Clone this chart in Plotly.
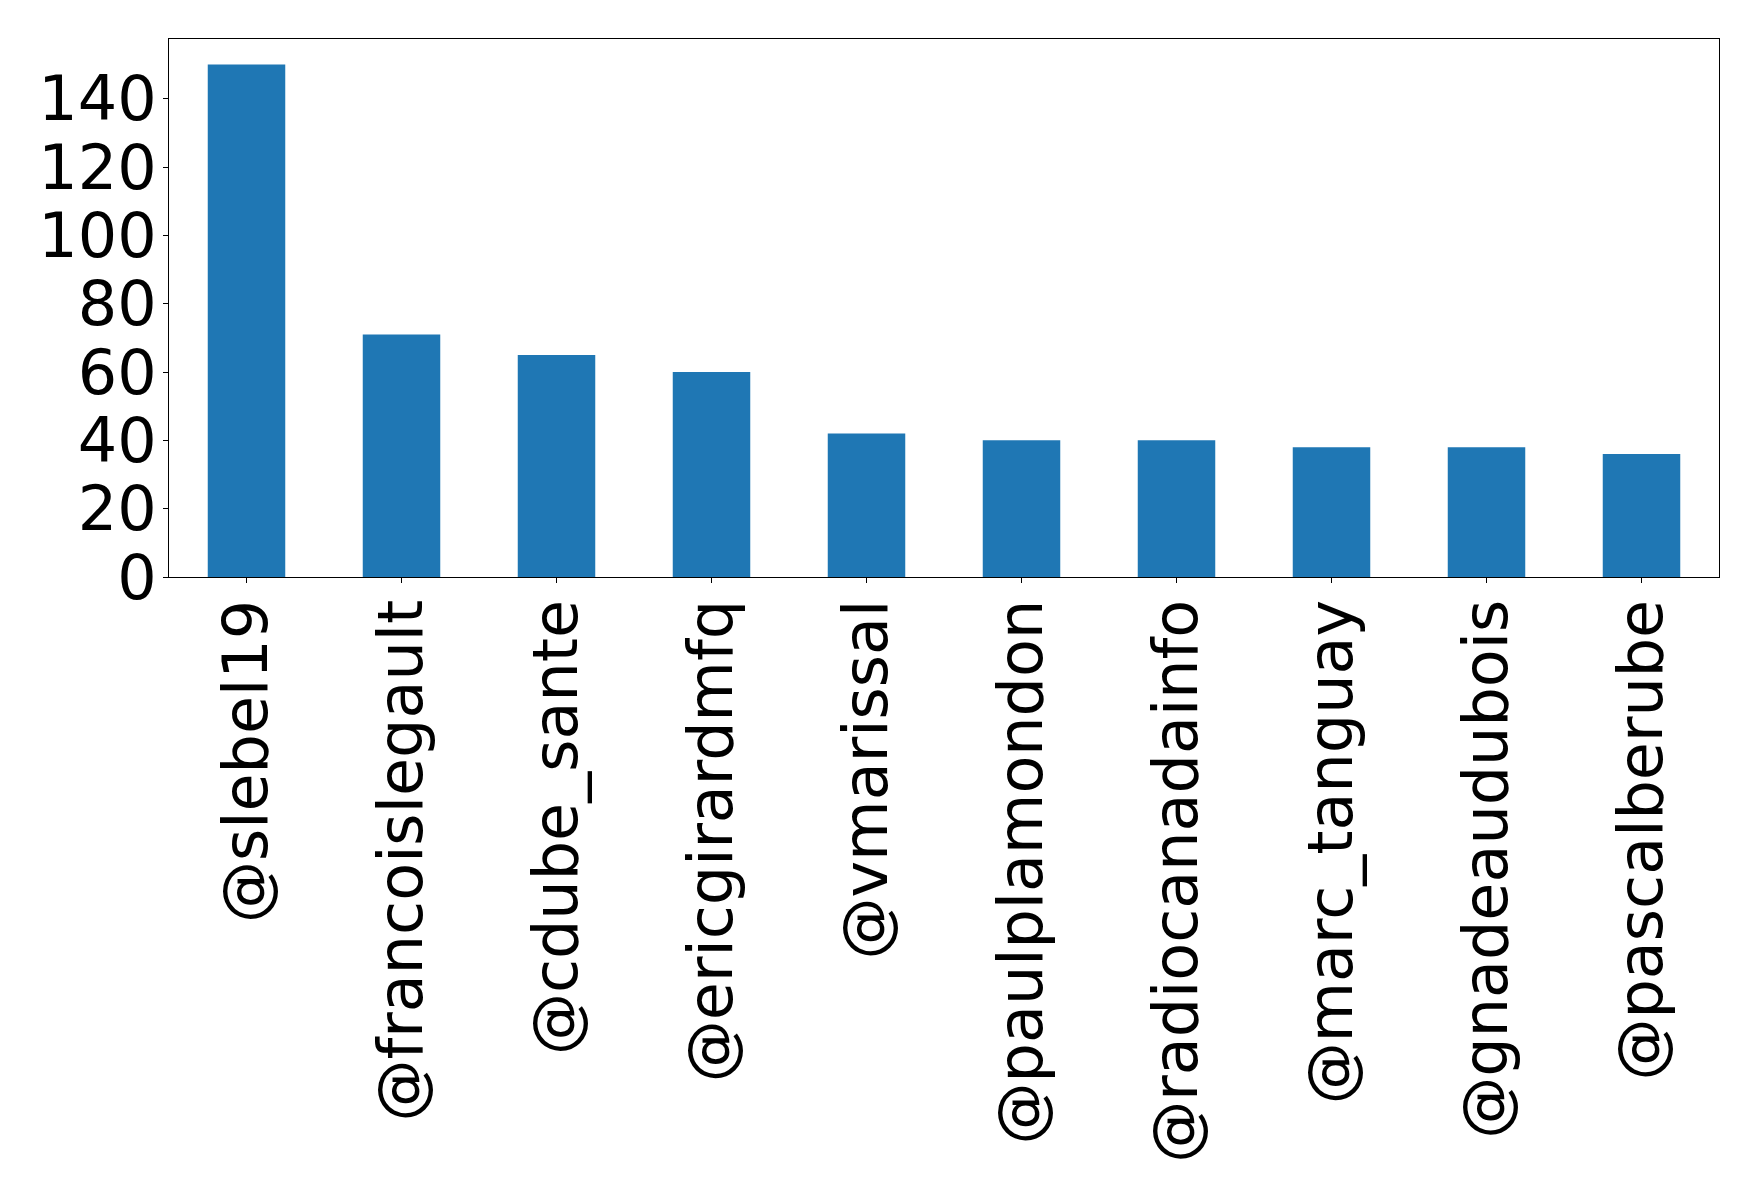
import plotly.graph_objects as go

accounts = ["@slebel19", "@francoislegault", "@cdube_sante", "@ericgirardmfq", "@vmarissal",
            "@paulplamondon", "@radiocanadainfo", "@marc_tanguay", "@gnadeaudubois", "@pascalberube"]
counts = [150, 71, 65, 60, 42, 40, 40, 38, 38, 36]
y_ticks = [0, 20, 40, 60, 80, 100, 120, 140]

fig = go.Figure(go.Bar(
    x=list(range(len(accounts))),
    y=counts,
    width=0.5,
    marker=dict(color="#1f77b4", line=dict(width=0)),
))

font = dict(family="DejaVu Sans", size=62, color="black")
fig.update_layout(
    width=1758, height=1195,
    margin=dict(l=161, r=47, t=31, b=626, autoexpand=False),
    paper_bgcolor="white", plot_bgcolor="white",
    showlegend=False,
    font=font,
)
fig.update_xaxes(
    range=[-0.5, len(accounts) - 0.5],
    tickmode="array", tickvals=list(range(len(accounts))), ticktext=accounts,
    tickangle=-90, tickfont=font, ticklabelstandoff=-8,
    ticks="outside", ticklen=5, tickwidth=1, tickcolor="black",
    showline=True, linecolor="black", linewidth=1, mirror=True,
    showgrid=False, zeroline=False,
)
fig.update_yaxes(
    range=[0, 157.5],
    tickmode="array", tickvals=y_ticks, ticktext=[str(v) for v in y_ticks],
    tickfont=font, ticklabelstandoff=-6,
    ticks="outside", ticklen=5, tickwidth=1, tickcolor="black",
    showline=True, linecolor="black", linewidth=1, mirror=True,
    showgrid=False, zeroline=False,
)
fig.write_html("out.html")
